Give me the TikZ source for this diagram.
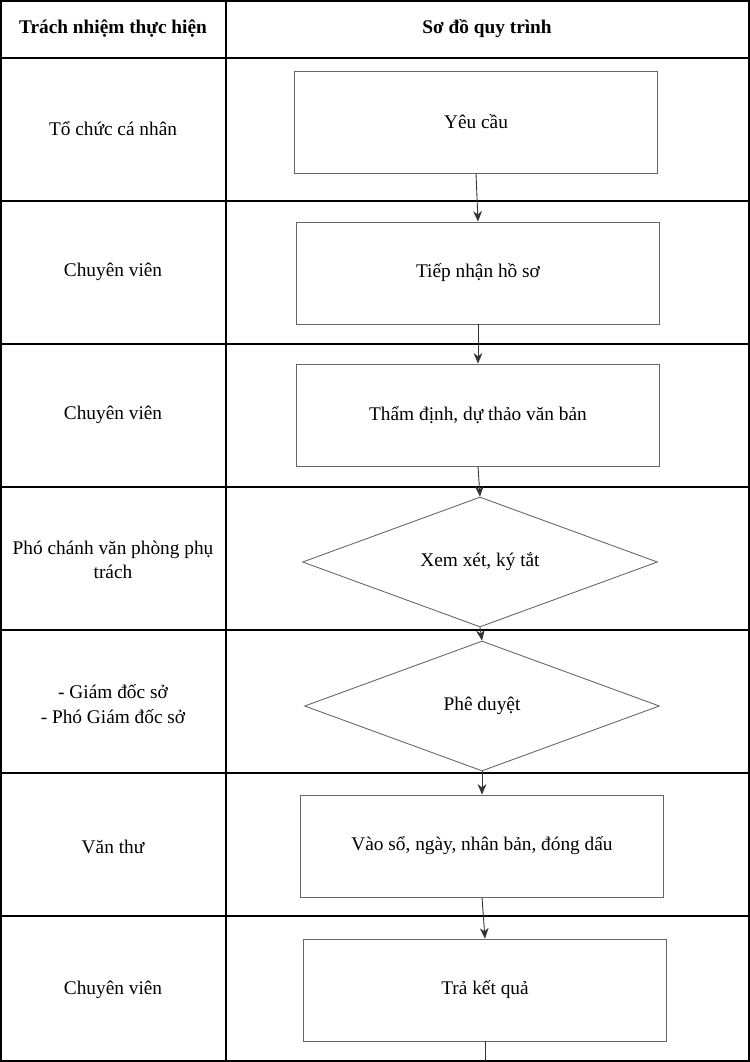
\documentclass[tikz,border=0pt]{standalone}
\usepackage{fontspec}
\setmainfont{Liberation Serif}
\usetikzlibrary{shapes.geometric,arrows.meta}

\tikzset{
  cell/.style={font=\fontsize{11}{14}\selectfont, align=center},
  head/.style={font=\bfseries\fontsize{11}{14}\selectfont},
  stepbox/.style={draw=black!60, line width=0.5pt, minimum width=7.26cm, minimum height=2.04cm, font=\fontsize{11}{14}\selectfont},
  decide/.style={draw=black!60, line width=0.5pt, diamond, aspect=2.7, inner sep=0pt, minimum width=7.1cm, minimum height=2.6cm, font=\fontsize{11}{14}\selectfont},
  flow/.style={-{Stealth[length=6pt,width=5pt]}, black!80, line width=0.5pt}
}

\begin{document}
\begin{tikzpicture}[x=0.02cm, y=-0.02cm]
  \useasboundingbox (0,0) rectangle (750,1062);
  % table grid
  \draw[black, line width=0.6pt] (1,1) rectangle (749,1061);
  \draw[black, line width=0.6pt] (226,1) -- (226,1061);
  \foreach \y in {58,201,344,487,630,773,916}
    \draw[black, line width=0.6pt] (1,\y) -- (749,\y);

  % header
  \node[head] (h1) at (113,29) {Trách nhiệm thực hiện};
  \node[head] (h2) at (487,29) {Sơ đồ quy trình};

  % responsibilities
  \node[cell] (r1) at (113,129) {Tổ chức cá nhân};
  \node[cell] (r2) at (113,272) {Chuyên viên};
  \node[cell] (r3) at (113,415) {Chuyên viên};
  \node[cell] (r4) at (113,560) {Phó chánh văn phòng phụ\\trách};
  \node[cell] (r5) at (113,704) {- Giám đốc sở\\- Phó Giám đốc sở};
  \node[cell] (r6) at (113,847) {Văn thư};
  \node[cell] (r7) at (113,990) {Chuyên viên};

  % process
  \node[stepbox] (s1) at (476,122) {Yêu cầu};
  \node[stepbox] (s2) at (478,273) {Tiếp nhận hồ sơ};
  \node[stepbox] (s3) at (478,415) {Thẩm định, dự thảo văn bản};
  \node[decide] (s4) at (480,562) {Xem xét, ký tắt};
  \node[decide] (s5) at (482,706) {Phê duyệt};
  \node[stepbox] (s6) at (482,846) {Vào sổ, ngày, nhân bản, đóng dấu};
  \node[stepbox] (s7) at (485,990) {Trả kết quả};
  \coordinate (end) at (485,1061);

  \draw[flow] (s1.south) -- (s2.north);
  \draw[flow] (s2.south) -- (s3.north);
  \draw[flow] (s3.south) -- (s4.north);
  \draw[flow] (s4.south) -- (s5.north);
  \draw[flow] (s5.south) -- (s6.north);
  \draw[flow] (s6.south) -- (s7.north);
  \draw[black!80, line width=0.5pt] (s7.south) -- (end);
\end{tikzpicture}
\end{document}
